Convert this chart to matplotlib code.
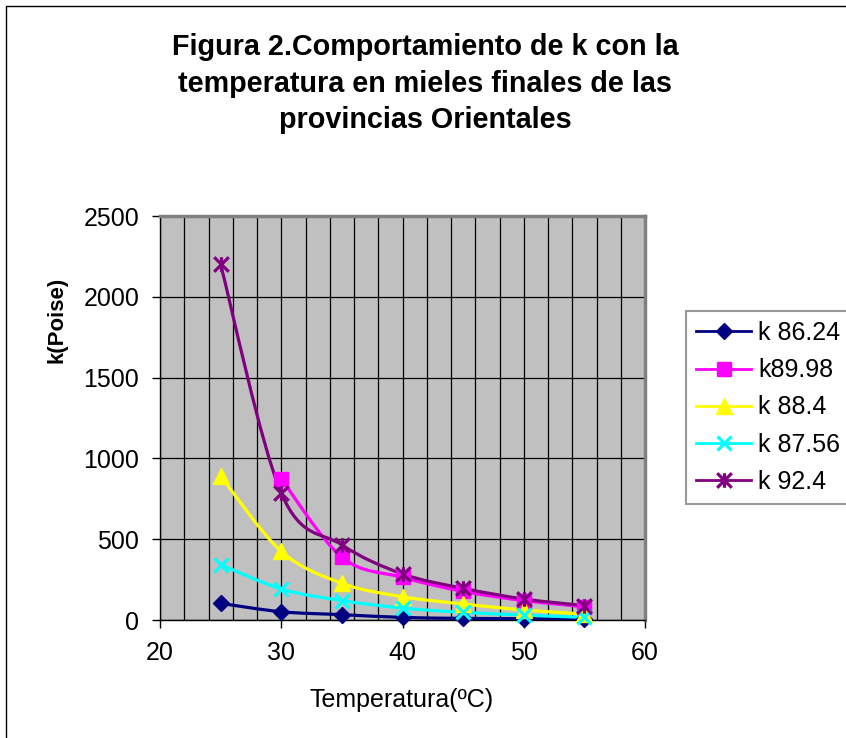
import numpy as np
import matplotlib
matplotlib.use("Agg")
import matplotlib.pyplot as plt
from matplotlib.path import Path
from matplotlib.patches import PathPatch, Rectangle
from matplotlib.lines import Line2D

plt.rcParams["font.family"] = ["Liberation Sans", "DejaVu Sans"]

# Data
temps = [25, 30, 35, 40, 45, 50, 55]
temps_8998 = [30, 35, 40, 45, 50, 55]
k_8624 = [103, 51, 33, 16, 10, 8, 4]
k_8998 = [874, 388, 264, 177, 120, 82]
k_884 = [890, 425, 227, 144, 99, 62, 37]
k_8756 = [343, 192, 120, 74, 47, 31, 16]
k_924 = [2200, 785, 465, 285, 196, 130, 89]

labels = ["k 86.24", "k89.98", "k 88.4", "k 87.56", "k 92.4"]
title_lines = ["Figura 2.Comportamiento de k con la",
               "temperatura en mieles finales de las",
               "provincias Orientales"]

# Excel-like "star" marker: an X with a vertical bar
star = Path([(0, -1), (0, 1), (-1, -1), (1, 1), (-1, 1), (1, -1)],
            [Path.MOVETO, Path.LINETO, Path.MOVETO, Path.LINETO, Path.MOVETO, Path.LINETO])

series = [
    (temps, k_8624, "#000080", "D", 8.5),
    (temps_8998, k_8998, "#FF00FF", "s", 10.5),
    (temps, k_884, "#FFFF00", "^", 11.5),
    (temps, k_8756, "#00FFFF", "x", 10),
    (temps, k_924, "#800080", star, 10.5),
]


def smooth_path(xs, ys):
    # Catmull-Rom style bezier through the points (like Excel smoothed lines)
    pts = np.column_stack([xs, ys]).astype(float)
    n = len(pts)
    verts = [pts[0]]
    codes = [Path.MOVETO]
    for i in range(n - 1):
        p0 = pts[i - 1] if i > 0 else pts[i]
        p1 = pts[i]
        p2 = pts[i + 1]
        p3 = pts[i + 2] if i + 2 < n else pts[i + 1]
        verts += [p1 + (p2 - p0) / 6, p2 - (p3 - p1) / 6, p2]
        codes += [Path.CURVE4] * 3
    return Path(verts, codes)


fig = plt.figure(figsize=(8.46, 7.38), dpi=100)
ax = fig.add_axes([160 / 846, 1 - 620 / 738, 485 / 846, 404 / 738])
ax.set_facecolor("#C0C0C0")

handles = []
for xs, ys, color, marker, ms in series:
    ax.add_patch(PathPatch(smooth_path(xs, ys), facecolor="none", edgecolor=color,
                           lw=2.3, zorder=3))
    mew = 2.3 if marker == "x" or marker is star else 1
    ax.plot(xs, ys, linestyle="none", marker=marker, ms=ms, color=color,
            mec=color, mew=mew, zorder=4, clip_on=False)
    handles.append(Line2D([], [], color=color, lw=2, marker=marker, ms=ms,
                          mec=color, mew=mew))

ax.set_xlim(20, 60)
ax.set_ylim(0, 2500)
ax.set_xticks([20, 30, 40, 50, 60])
ax.set_xticks(np.arange(20, 61, 2), minor=True)
ax.set_yticks([0, 500, 1000, 1500, 2000, 2500])
ax.grid(True, which="both", axis="x", color="black", lw=0.9)
ax.grid(True, which="major", axis="y", color="black", lw=0.9)
ax.set_axisbelow(True)
ax.tick_params(axis="both", which="major", direction="out", length=6, width=1,
               labelsize=18, color="black")
ax.tick_params(axis="x", which="major", pad=9)
ax.tick_params(axis="y", which="major", pad=9)
ax.tick_params(axis="x", which="minor", length=0)

for side in ["top", "right"]:
    ax.spines[side].set_color("#808080")
    ax.spines[side].set_linewidth(2.5)
for side in ["left", "bottom"]:
    ax.spines[side].set_color("black")
    ax.spines[side].set_linewidth(1)

# Text
for i, line in enumerate(title_lines):
    fig.text(425 / 846, 1 - (55 + 36.7 * i) / 738, line, ha="center", va="baseline",
             fontsize=20.7, fontweight="bold")
fig.text(402 / 846, 1 - 707 / 738, "Temperatura(ºC)", ha="center", va="baseline",
         fontsize=18)
fig.text(57 / 846, 418 / 738, "k(Poise)", ha="center", va="center", rotation=90,
         fontsize=16, fontweight="bold")

leg = fig.legend(handles, labels, loc="upper left",
                 bbox_to_anchor=(686 / 846, 1 - 311 / 738), fontsize=18,
                 frameon=True, fancybox=False, handlelength=2.2, handletextpad=0.3,
                 labelspacing=0.53, borderpad=0.4, borderaxespad=0, numpoints=1)
leg.get_frame().set_edgecolor("#808080")
leg.get_frame().set_linewidth(1.5)

# Outer chart border
fig.patches.append(Rectangle((6 / 846, -0.05), 1.2, 1 - 6 / 738 + 0.05,
                             transform=fig.transFigure, fill=False,
                             edgecolor="black", lw=1))

fig.savefig("out.png", dpi=100)
